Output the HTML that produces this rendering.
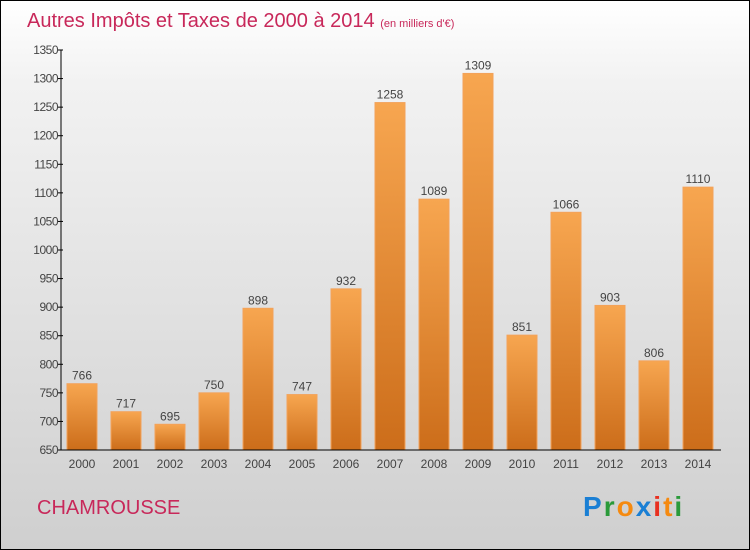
<!DOCTYPE html>
<html><head><meta charset="utf-8"><style>
body{margin:0}
#c{position:relative;width:748px;height:548px;border:1px solid #000;background:linear-gradient(#fff,#f2f2f2 15%,#cfcfcf);font-family:"Liberation Sans",sans-serif;overflow:hidden}
svg text{font-family:"Liberation Sans",sans-serif}
</style></head><body>
<div id="c">
<svg id="s" width="748" height="548">
<text x="26" y="26" font-size="20" fill="#c8285a">Autres Impôts et Taxes de 2000 à 2014 <tspan font-size="11">(en milliers d'€)</tspan></text>
<text x="36" y="513" font-size="20" fill="#c8285a">CHAMROUSSE</text>
<text x="582" y="515" font-size="28" font-weight="bold" letter-spacing="2"><tspan fill="#1a7fd4">P</tspan><tspan fill="#2a9a3a">r</tspan><tspan fill="#f58a10">o</tspan><tspan fill="#1a7fd4">x</tspan><tspan fill="#e83020">i</tspan><tspan fill="#f58a10">t</tspan><tspan fill="#2a9a3a">i</tspan></text>
<defs><linearGradient id="g" x1="0" y1="0" x2="0" y2="1"><stop offset="0" stop-color="#f7a650"/><stop offset="1" stop-color="#cc6d1a"/></linearGradient></defs>
<g id="bars"></g><g id="axes"></g>
</svg></div>
<script>
const years=["2000","2001","2002","2003","2004","2005","2006","2007","2008","2009","2010","2011","2012","2013","2014"];
const values=[766,717,695,750,898,747,932,1258,1089,1309,851,1066,903,806,1110];
const yTicks=[650,700,750,800,850,900,950,1000,1050,1100,1150,1200,1250,1300,1350];
const NS="http://www.w3.org/2000/svg";
const y=v=>449-(v-650)*400/700;
const x=i=>81+i*44;
function mk(t,a,p){const e=document.createElementNS(NS,t);for(const k in a)e.setAttribute(k,a[k]);p.appendChild(e);return e;}
const B=document.getElementById('bars'),A=document.getElementById('axes');
values.forEach((v,i)=>{
 const r=mk('rect',{x:x(i)-15,y:y(v),width:30,height:449-y(v),fill:'url(#g)',stroke:'#f3a25a','stroke-width':1},B);
 
 
 const t=mk('text',{x:x(i),y:y(v)-4,'font-size':12,'text-anchor':'middle',fill:'#444'},B);t.textContent=v;
 
 
 const l=mk('text',{x:x(i),y:467,'font-size':12,'text-anchor':'middle',fill:'#444'},A);l.textContent=years[i];
 
 
});
const ya=mk('line',{x1:60,y1:49,x2:60,y2:449,stroke:'#000'},A);


const xa=mk('line',{x1:60,y1:449,x2:720,y2:449,stroke:'#000'},A);


yTicks.forEach(v=>{
 mk('line',{x1:57,y1:y(v),x2:62,y2:y(v),stroke:'#000'},A);
 const t=mk('text',{x:57,y:y(v)+4,'font-size':12,'text-anchor':'end',fill:'#444','letter-spacing':'-0.5'},A);t.textContent=v;
 
 
});
</script>
</body></html>
